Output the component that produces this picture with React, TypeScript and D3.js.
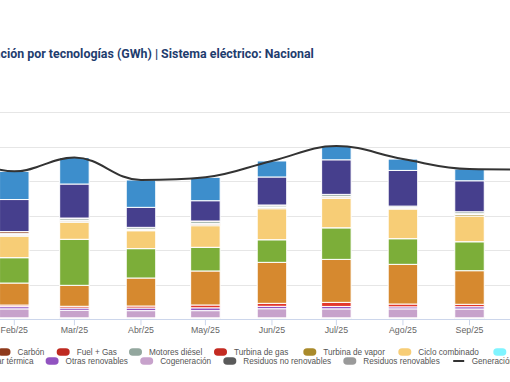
import React from "react";
import * as d3 from "d3";

const W = 510;
const H = 382;

// Months (time axis) and labels
const monthDates = [
  "2025-01-01", "2025-02-01", "2025-03-01", "2025-04-01", "2025-05-01",
  "2025-06-01", "2025-07-01", "2025-08-01", "2025-09-01", "2025-10-01",
];
const monthLabels = [
  "Ene/25", "Feb/25", "Mar/25", "Abr/25", "May/25",
  "Jun/25", "Jul/25", "Ago/25", "Sep/25", "Oct/25",
];

// Generation per technology (GWh), Jan..Oct 2025
const hidraulica = [4800, 4090, 3840, 3960, 3390, 2320, 1990, 1640, 1700, 2100];
const nuclear = [5100, 4640, 4930, 2900, 2940, 4060, 5010, 5170, 4490, 4700];
const carbon = [300, 240, 90, 20, 40, 30, 20, 0, 0, 0];
const fuelGas = [0, 0, 0, 0, 0, 0, 0, 0, 0, 0];
const motoresDiesel = [230, 200, 250, 230, 290, 240, 260, 190, 280, 260];
const turbinaGas = [110, 100, 100, 90, 150, 100, 110, 90, 120, 110];
const turbinaVapor = [170, 140, 180, 150, 200, 170, 190, 150, 220, 200];
const cicloCombinado = [3800, 3100, 2460, 2590, 3130, 4490, 4260, 4290, 3720, 3900];
const hidroeolica = [2, 2, 2, 2, 2, 2, 2, 2, 2, 2];
const eolica = [5600, 3680, 6670, 4260, 3430, 3280, 4580, 3720, 4200, 4600];
const solarFotovoltaica = [2300, 3190, 3040, 4060, 4930, 5940, 6230, 5750, 4870, 3800];
const solarTermica = [120, 230, 250, 290, 410, 430, 590, 410, 350, 200];
const otrasRenovables = [330, 320, 330, 380, 410, 350, 350, 290, 330, 330];
const cogeneracion = [1400, 1300, 1090, 1040, 1040, 1320, 1300, 1300, 1280, 1300];
const residuosNoRenovables = [150, 150, 150, 150, 150, 150, 150, 150, 150, 150];
const residuosRenovables = [65, 65, 65, 65, 65, 65, 65, 65, 65, 65];

// Y axis gridline values (GWh)
const yTicks = [5000, 10000, 15000, 20000, 25000, 30000];

// Stack order, bottom to top
const seriesList: { name: string; values: number[] }[] = [
  { name: "Residuos renovables", values: residuosRenovables },
  { name: "Residuos no renovables", values: residuosNoRenovables },
  { name: "Cogeneración", values: cogeneracion },
  { name: "Otras renovables", values: otrasRenovables },
  { name: "Solar térmica", values: solarTermica },
  { name: "Solar fotovoltaica", values: solarFotovoltaica },
  { name: "Eólica", values: eolica },
  { name: "Hidroeólica", values: hidroeolica },
  { name: "Ciclo combinado", values: cicloCombinado },
  { name: "Turbina de vapor", values: turbinaVapor },
  { name: "Turbina de gas", values: turbinaGas },
  { name: "Motores diésel", values: motoresDiesel },
  { name: "Fuel + Gas", values: fuelGas },
  { name: "Carbón", values: carbon },
  { name: "Nuclear", values: nuclear },
  { name: "Hidráulica", values: hidraulica },
];

const colors: Record<string, string> = {
  "Hidráulica": "#3d8ecc",
  "Nuclear": "#463f8d",
  "Carbón": "#8e3a1c",
  "Fuel + Gas": "#bf2a20",
  "Motores diésel": "#93a79e",
  "Turbina de gas": "#c42b22",
  "Turbina de vapor": "#a98a2b",
  "Ciclo combinado": "#f7cd76",
  "Hidroeólica": "#7ff4ff",
  "Eólica": "#7cae39",
  "Solar fotovoltaica": "#d6892f",
  "Solar térmica": "#e3372b",
  "Otras renovables": "#9153c0",
  "Cogeneración": "#c7a2cb",
  "Residuos no renovables": "#5a5a5a",
  "Residuos renovables": "#9a9a9a",
  "Generación total": "#333333",
};

// Legend layout (text start x per row)
const legendRow1 = [
  { name: "Carbón", x: 17.5 },
  { name: "Fuel + Gas", x: 76.7 },
  { name: "Motores diésel", x: 149 },
  { name: "Turbina de gas", x: 234 },
  { name: "Turbina de vapor", x: 323.3 },
  { name: "Ciclo combinado", x: 418.3 },
  { name: "Hidroeólica", x: 513.3 },
];
const legendRow2 = [
  { name: "Solar térmica", x: -14.8 },
  { name: "Otras renovables", x: 65.6 },
  { name: "Cogeneración", x: 160.2 },
  { name: "Residuos no renovables", x: 243.3 },
  { name: "Residuos renovables", x: 363.3 },
  { name: "Generación total", x: 471.7, line: true },
];

// Highcharts-like spline curve for d3.line
function highchartsSpline(context: any) {
  let pts: [number, number][] = [];
  return {
    areaStart() {},
    areaEnd() {},
    lineStart() {
      pts = [];
    },
    point(x: number, y: number) {
      pts.push([+x, +y]);
    },
    lineEnd() {
      const n = pts.length;
      if (!n) return;
      const sm = 1.5;
      const den = sm + 1;
      const lc: [number, number][] = [];
      const rc: [number, number][] = [];
      for (let i = 0; i < n; i++) {
        const [px, py] = pts[i];
        if (i > 0 && i < n - 1) {
          const [lx, ly] = pts[i - 1];
          const [nx, ny] = pts[i + 1];
          const lcx = (sm * px + lx) / den;
          let lcy = (sm * py + ly) / den;
          const rcx = (sm * px + nx) / den;
          let rcy = (sm * py + ny) / den;
          let corr = 0;
          if (rcx !== lcx) corr = ((rcy - lcy) * (rcx - px)) / (rcx - lcx) + py - rcy;
          lcy += corr;
          rcy += corr;
          if (lcy > ly && lcy > py) {
            lcy = Math.max(ly, py);
            rcy = 2 * py - lcy;
          } else if (lcy < ly && lcy < py) {
            lcy = Math.min(ly, py);
            rcy = 2 * py - lcy;
          }
          if (rcy > ny && rcy > py) {
            rcy = Math.max(ny, py);
            lcy = 2 * py - rcy;
          } else if (rcy < ny && rcy < py) {
            rcy = Math.min(ny, py);
            lcy = 2 * py - rcy;
          }
          lc[i] = [lcx, lcy];
          rc[i] = [rcx, rcy];
        } else {
          lc[i] = [px, py];
          rc[i] = [px, py];
        }
      }
      context.moveTo(pts[0][0], pts[0][1]);
      for (let i = 1; i < n; i++) {
        context.bezierCurveTo(rc[i - 1][0], rc[i - 1][1], lc[i][0], lc[i][1], pts[i][0], pts[i][1]);
      }
    },
  };
}

export default function App() {
  const parse = d3.utcParse("%Y-%m-%d");
  const dates = monthDates.map((d) => parse(d) as Date);

  const x = d3
    .scaleUtc()
    .domain([parse("2025-02-01") as Date, parse("2025-09-01") as Date])
    .range([14.3, 469.5]);
  const baseY = 319.3;
  const y = d3.scaleLinear().domain([0, 30000]).range([baseY, 112.3]);

  const table = dates.map((d, i) => {
    const row: any = { date: d, label: monthLabels[i] };
    seriesList.forEach((s) => (row[s.name] = s.values[i]));
    return row;
  });
  const keys = seriesList.map((s) => s.name);
  const stacked = d3.stack<any>().keys(keys)(table);
  const totals = table.map((row) => d3.sum(keys, (k) => row[k]));

  const barW = 29.5;
  const line = d3
    .line<number>()
    .x((_, i) => x(dates[i]))
    .y((t) => y(t))
    .curve(highchartsSpline as any);

  const legendFont = "'Liberation Sans', Arial, sans-serif";
  const renderLegend = (items: any[], textY: number, markerY: number) =>
    items.map((it) => (
      <g key={it.name}>
        {it.line ? (
          <line
            x1={it.x - 18.5}
            x2={it.x - 7.5}
            y1={markerY}
            y2={markerY}
            stroke={colors[it.name]}
            strokeWidth={2}
          />
        ) : (
          <rect
            x={it.x - 20}
            y={markerY - 3.75}
            width={13}
            height={7.5}
            rx={3.75}
            ry={3.75}
            fill={colors[it.name]}
          />
        )}
        <text x={it.x} y={textY} fontSize={8.2} fill="#555" fontFamily={legendFont}>
          {it.name}
        </text>
      </g>
    ));

  return (
    <svg
      width={W}
      height={H}
      viewBox={`0 0 ${W} ${H}`}
      style={{ position: "absolute", left: 0, top: 0, background: "#fff" }}
    >
      {/* Title */}
      <g fontFamily="Roboto, 'Liberation Sans', Arial, sans-serif" fontWeight={700} fontSize={12.4} fill="#1f3d6e">
        <text x={0.5} y={58.2} textAnchor="end">Estructura de la genera</text>
        <text x={0.5} y={58.2}>ción por tecnologías (GWh) | Sistema eléctrico: Nacional</text>
      </g>

      {/* Gridlines */}
      {yTicks.map((t) => (
        <line key={t} x1={0} x2={W} y1={Math.round(y(t)) + 0.5} y2={Math.round(y(t)) + 0.5} stroke="#e6e6e6" strokeWidth={1} />
      ))}

      {/* Bars */}
      {stacked.map((layer) => (
        <g key={layer.key} fill={colors[layer.key as string]}>
          {layer.map((seg, i) => {
            const h = y(seg[0]) - y(seg[1]);
            if (h <= 0) return null;
            return (
              <rect
                key={i}
                x={x(dates[i]) - barW / 2}
                y={y(seg[1])}
                width={barW}
                height={h}
                stroke="#ffffff"
                strokeWidth={1}
              />
            );
          })}
        </g>
      ))}

      {/* Axis line and ticks */}
      <line x1={0} x2={W} y1={baseY + 0.2} y2={baseY + 0.2} stroke="#ccd6eb" strokeWidth={1} />
      {dates.map((d, i) => (
        <g key={i}>
          <line x1={x(d)} x2={x(d)} y1={baseY} y2={baseY + 6} stroke="#ccd6eb" strokeWidth={1} />
          <text
            x={x(d)}
            y={332.5}
            textAnchor="middle"
            fontSize={8.8}
            fill="#666"
            fontFamily={legendFont}
          >
            {monthLabels[i]}
          </text>
        </g>
      ))}

      {/* Total generation line */}
      <path d={line(totals) || ""} fill="none" stroke={colors["Generación total"]} strokeWidth={2} />

      {/* Legend */}
      {renderLegend(legendRow1, 355, 352)}
      {renderLegend(legendRow2, 364, 361)}
    </svg>
  );
}
